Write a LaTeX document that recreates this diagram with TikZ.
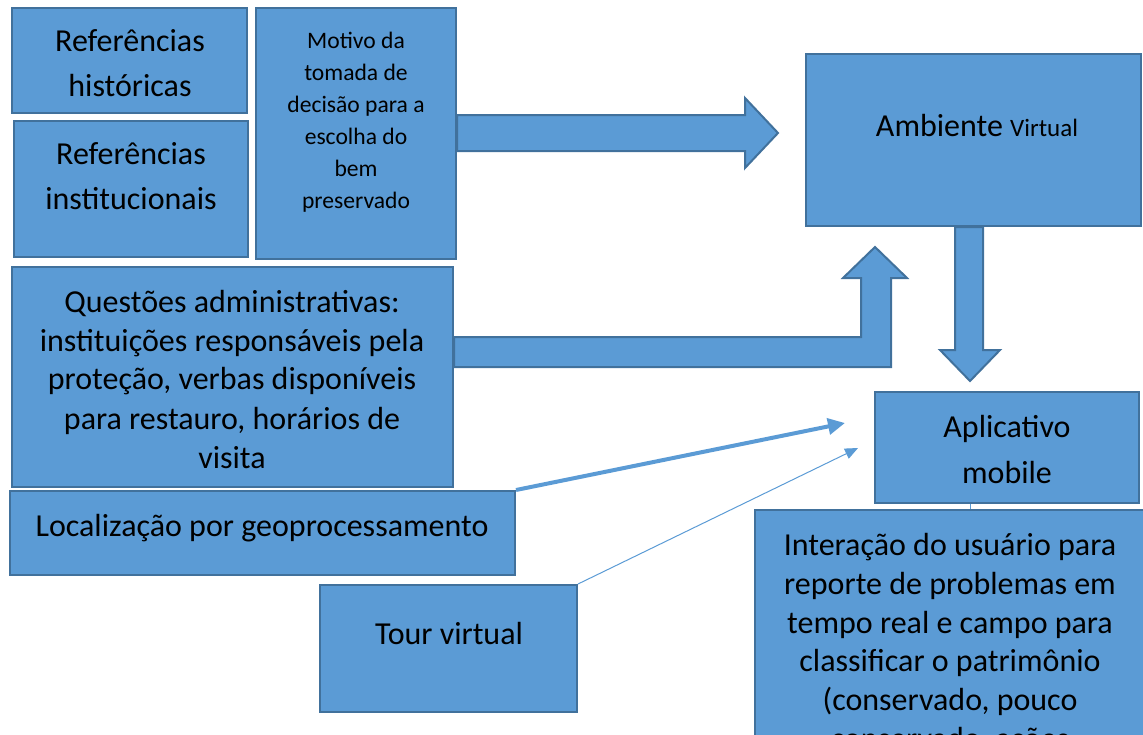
\documentclass[tikz,border=0pt]{standalone}
\usepackage{fontspec}
\setmainfont{Carlito}
\usetikzlibrary{arrows.meta,calc}
\definecolor{boxfill}{HTML}{5B9BD5}
\definecolor{boxline}{HTML}{41719C}
\begin{document}
\begin{tikzpicture}[x=1pt,y=-1pt,
  box/.style={rectangle,fill=boxfill,draw=boxline,line width=2pt,inner sep=0pt},
  txt/.style={align=center,inner sep=0pt,text=black,font=\fontsize{32}{39}\selectfont},
  smalltxt/.style={align=center,inner sep=0pt,text=black,font=\fontsize{23.6}{32}\selectfont},
  blockarrow/.style={fill=boxfill,draw=boxline,line width=2pt,line join=miter},
  link/.style={draw=boxfill}]
\useasboundingbox (0,0) rectangle (1143,734);

% boxes
\node[box,minimum width=235,minimum height=105] (refh) at (129.5,60.5) {};
\node[box,minimum width=234,minimum height=136] (refi) at (131,189) {};
\node[box,minimum width=200,minimum height=251] (motivo) at (356,133.5) {};
\node[box,minimum width=335,minimum height=172] (amb) at (973.5,140) {};
\node[box,minimum width=441,minimum height=220] (quest) at (232.5,377) {};
\node[box,minimum width=264,minimum height=111] (app) at (1007,447.5) {};
\node[box,minimum width=505,minimum height=84] (loc) at (262.5,533) {};
\node[box,minimum width=257,minimum height=127] (tour) at (448.5,648.5) {};
\node[box,minimum width=390,minimum height=250] (inter) at (950,635) {};

% texts
\node[txt,font=\fontsize{32}{45}\selectfont] (trefh) at (130,63) {Referências\\históricas};
\node[txt,font=\fontsize{32}{45}\selectfont] (trefi) at (131,176) {Referências\\institucionais};
\node[smalltxt] (tmotivo) at (356,122) {Motivo da\\tomada de\\decisão para a\\escolha do\\bem\\preservado};
\node[txt] (tamb) at (977,126) {Ambiente {\fontsize{25}{30}\selectfont Virtual}};
\node[txt,font=\fontsize{32}{39}\selectfont] (tquest) at (232,379) {Questões administrativas:\\instituições responsáveis pela\\proteção, verbas disponíveis\\para restauro, horários de\\visita};
\node[txt,font=\fontsize{32}{46}\selectfont] (tapp) at (1007,449) {Aplicativo\\mobile};
\node[txt] (tloc) at (262,528) {Localização por geoprocessamento};
\node[txt] (ttour) at (449,633) {Tour virtual};
\node[txt,font=\fontsize{32}{38.8}\selectfont,anchor=north] (tinter) at (950,533) {Interação do usuário para\\reporte de problemas em\\tempo real e campo para\\classificar o patrimônio\\(conservado, pouco\\conservado, ações};

% block arrows
\path[blockarrow] (motivo.east |- 0,115) -- (745,115) -- (745,98) -- (778,133) -- (745,168) -- (745,151) -- (motivo.east |- 0,151) -- cycle;
\path[blockarrow] (quest.east |- 0,337) -- (861,337) -- (861,278) -- (843,278) -- (875,247) -- (907,278) -- (891,278) -- (891,367) -- (quest.east |- 0,367) -- cycle;
\path[blockarrow] (955,0 |- amb.south) -- (955,350) -- (940,350) -- (970,381) -- (1000,350) -- (983,350) -- (983,0 |- amb.south) -- cycle;

% connectors
\coordinate (c1) at (845,423);
\coordinate (c2) at (858,448);
\draw[link,line width=4pt,-{Triangle[length=17pt,width=16pt]}] (loc.north east) -- (c1);
\draw[link,line width=1pt,-{Triangle[length=13pt,width=11pt]}] (tour.north east) -- (c2);
\draw[link,line width=1pt] (app.south -| 970,0) -- (inter.north -| 970,0);
\end{tikzpicture}
\end{document}
